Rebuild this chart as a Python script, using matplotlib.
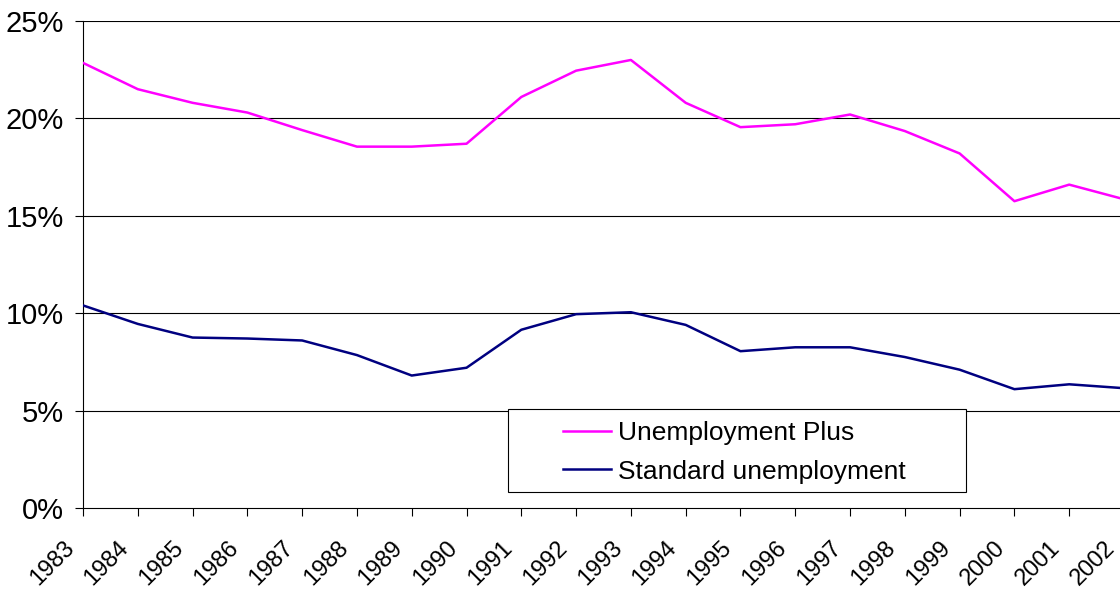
import numpy as np
import matplotlib.pyplot as plt
import matplotlib.transforms as mtransforms
from matplotlib.patches import Rectangle
from matplotlib.ticker import FuncFormatter

years = list(range(1983, 2003))
unemp_plus = [22.85, 21.5, 20.8, 20.3, 19.4, 18.55, 18.55, 18.7, 21.1, 22.45,
              23.0, 20.8, 19.55, 19.7, 20.2, 19.35, 18.2, 15.75, 16.6, 15.85]
standard = [10.4, 9.45, 8.75, 8.7, 8.6, 7.85, 6.8, 7.2, 9.15, 9.95,
            10.05, 9.4, 8.05, 8.25, 8.25, 7.75, 7.1, 6.1, 6.35, 6.15]
yticks = [0, 5, 10, 15, 20, 25]

plt.rcParams['font.family'] = ['Liberation Sans', 'DejaVu Sans']

W, H = 1120, 594
fig = plt.figure(figsize=(W / 100, H / 100), dpi=100)
ax = fig.add_axes([83 / W, (H - 508) / H, (1124 - 83) / W, (508 - 21) / H])

# gridlines
for v in yticks[1:]:
    ax.axhline(v, color='black', lw=0.8, zorder=1)

ax.plot(years, unemp_plus, color='#FF00FF', lw=1.8, label='Unemployment Plus', zorder=3)
ax.plot(years, standard, color='#000080', lw=1.8, label='Standard unemployment', zorder=3)

ax.set_xlim(1983, 2002)
ax.set_ylim(0, 25)
ax.set_yticks(yticks)
ax.yaxis.set_major_formatter(FuncFormatter(lambda v, p: f'{v:.0f}%'))
ax.set_xticks(years)
ax.set_xticklabels([str(y) for y in years], rotation=45, ha='right', va='top',
                   rotation_mode='anchor')
ax.tick_params(axis='y', labelsize=21, length=6, width=0.8, color='black', pad=8)
ax.tick_params(axis='x', labelsize=17, length=6, width=0.8, color='black', pad=2)

# shift year labels left and down, like the original
off = mtransforms.ScaledTranslation(-20 / 100, -18 / 100, fig.dpi_scale_trans)
for lbl in ax.get_xticklabels():
    lbl.set_transform(lbl.get_transform() + off)

for s in ['top', 'right']:
    ax.spines[s].set_visible(False)
for s in ['left', 'bottom']:
    ax.spines[s].set_linewidth(0.8)

# legend box
ax.add_patch(Rectangle((508 / W, (H - 492) / H), 458 / W, 83 / H, transform=fig.transFigure,
                       facecolor='white', edgecolor='black', lw=0.8, zorder=4, clip_on=False))
ax.legend(loc='upper left', bbox_to_anchor=(563 / W, (H - 421) / H), bbox_transform=fig.transFigure,
          frameon=False, fontsize=19, borderpad=0, borderaxespad=0,
          handlelength=1.8, handletextpad=0.3, labelspacing=0.55)

fig.savefig('out.png', dpi=100)
